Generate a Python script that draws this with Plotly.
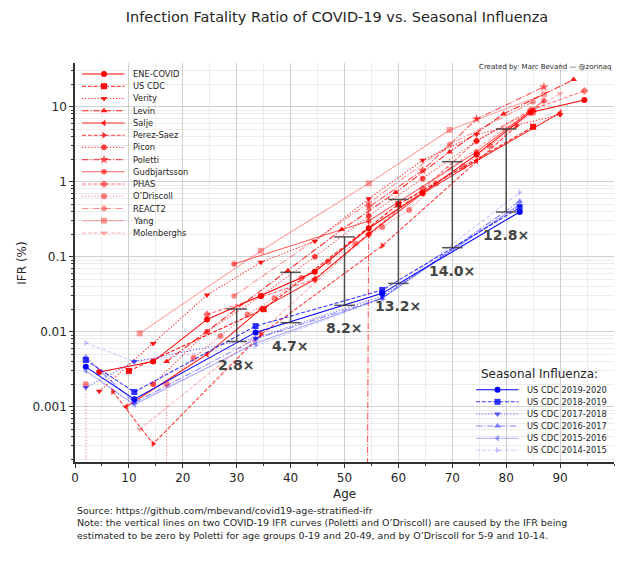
import plotly.graph_objects as go
import math

FONT = "DejaVu Sans"
TXT = "#262626"

# ---------------- data ----------------
covid_names = ["ENE-COVID", "US CDC", "Verity", "Levin", "Salje", "Perez-Saez", "Picon",
               "Poletti", "Gudbjartsson", "PHAS", "O\u2019Driscoll", "REACT2", "Yang", "Molenberghs"]

ene_x = [4.5, 14.5, 24.5, 34.5, 44.5, 54.5, 64.5, 74.5, 84.5, 94.5]
ene_y = [0.0029, 0.0040, 0.0146, 0.030, 0.063, 0.24, 0.71, 2.3, 8.4, 12.3]
cdc_x = [10, 35, 60, 85]
cdc_y = [0.003, 0.02, 0.5, 5.4]
verity_x = [4.5, 14.5, 24.5, 34.5, 44.5, 54.5, 64.5, 74.5, 90]
verity_y = [0.00161, 0.00695, 0.0309, 0.0844, 0.161, 0.595, 1.93, 4.28, 7.8]
levin_x = [17, 39.5, 49.5, 59.5, 69.5, 79.5, 92.5]
levin_y = [0.004, 0.065, 0.23, 0.72, 2.5, 8.0, 23]
salje_x = [9.5, 24.5, 34.5, 44.5, 54.5, 64.5, 74.5, 90]
salje_y = [0.001, 0.005, 0.02, 0.05, 0.2, 0.7, 1.9, 8.3]
perez_x = [7, 14.5, 34.5, 57, 82]
perez_y = [0.0016, 0.00032, 0.0092, 0.14, 5.6]
picon_x = [14.5, 24.5, 34.5, 44.5, 54.5, 64.5, 74.5, 85]
picon_y = [0.002, 0.01, 0.03, 0.1, 0.35, 1.1, 3.5, 9.0]
poletti_x = [9.5, 34.5, 54.5, 64.5, 74.5, 87]
poletti_y = [0, 0, 0.46, 1.42, 6.87, 18.35]
gudb_x = [29.5, 54.5, 74.5, 87]
gudb_y = [0.08, 0.3, 2.5, 12.0]
phas_x = [24.5, 44.5, 54.5, 64.5, 74.5, 84.5, 94.5]
phas_y = [0.017, 0.05, 0.2, 0.8, 3.5, 9.0, 16.3]
odriscoll_x = [2, 7, 12, 17, 22, 27, 32, 37, 42, 47, 52, 57, 62, 67, 72, 77, 85]
odriscoll_y = [0.002, 0, 0, 0.002, 0.0045, 0.0088, 0.017, 0.028, 0.052, 0.086, 0.15, 0.25,
               0.42, 0.95, 1.6, 3.0, 8.3]
react2_x = [29.5, 54.5, 69.5, 85]
react2_y = [0.03, 0.52, 3.13, 11.64]
yang_x = [12, 34.5, 54.5, 69.5, 87]
yang_y = [0.0095, 0.12, 0.95, 4.9, 14.6]
molen_x = [12, 34.5, 54.5, 69.5, 79.5, 90]
molen_y = [0.0005, 0.01, 0.2, 1.5, 5.0, 15.0]

covid_x = [ene_x, cdc_x, verity_x, levin_x, salje_x, perez_x, picon_x, poletti_x, gudb_x,
           phas_x, odriscoll_x, react2_x, yang_x, molen_x]
covid_y = [ene_y, cdc_y, verity_y, levin_y, salje_y, perez_y, picon_y, poletti_y, gudb_y,
           phas_y, odriscoll_y, react2_y, yang_y, molen_y]

flu_names = ["US CDC 2019-2020", "US CDC 2018-2019", "US CDC 2017-2018",
             "US CDC 2016-2017", "US CDC 2015-2016", "US CDC 2014-2015"]
flu_x = [2, 11, 33.5, 57, 82.5]
flu_2019 = [0.0034, 0.00126, 0.0098, 0.0325, 0.395]
flu_2018 = [0.0042, 0.00157, 0.0119, 0.036, 0.45]
flu_2017 = [0.0018, 0.0040, 0.0082, 0.030, 0.48]
flu_2016 = [0.0046, 0.00113, 0.0080, 0.028, 0.55]
flu_2015 = [0.0030, 0.00107, 0.0070, 0.028, 0.50]
flu_2014 = [0.0071, 0.0040, 0.0065, 0.028, 0.72]
flu_y = [flu_2019, flu_2018, flu_2017, flu_2016, flu_2015, flu_2014]

ratio_ages = [30, 40, 50, 60, 70, 80]
ratio_covid = [0.0201, 0.062, 0.184, 0.58, 1.85, 5.05]
ratio_flu = [0.0074, 0.0132, 0.0225, 0.0441, 0.132, 0.395]
ratio_labels = ["2.8\u00d7", "4.7\u00d7", "8.2\u00d7", "13.2\u00d7", "14.0\u00d7", "12.8\u00d7"]

# ---------------- styles ----------------
dashes = ["solid", "4px,1.8px", "1.2px,1.9px", "6.5px,1.8px,1.2px,1.8px"]
covid_markers = ["circle", "square", "triangle-down", "triangle-up", "triangle-left",
                 "triangle-right", "octagon", "star", "hexagon", "diamond", "circle",
                 "octagon", "square", "triangle-down"]
covid_alpha = [1, 0.95, 0.9, 0.88, 0.84, 0.8, 0.74, 0.68, 0.62, 0.56, 0.5, 0.44, 0.38, 0.3]
flu_markers = ["circle", "square", "triangle-down", "triangle-up", "triangle-left", "triangle-right"]
flu_alpha = [1, 0.8, 0.62, 0.48, 0.34, 0.2]

ZERO = 1e-300  # an IFR of zero is drawn as a vertical drop on the log axis
LW = 1.05


def rgba(rgb, a):
    return "rgba(%d,%d,%d,%.3f)" % (rgb[0], rgb[1], rgb[2], a)


fig = go.Figure()

for i, (xs, ys) in enumerate(zip(covid_x, covid_y)):
    col = rgba((255, 0, 0), covid_alpha[i])
    fig.add_trace(go.Scatter(
        x=xs, y=[v if v > 0 else ZERO for v in ys], mode="lines+markers",
        line=dict(color=col, width=LW, dash=dashes[i % 4]),
        marker=dict(symbol=covid_markers[i], size=7 if covid_markers[i] == "star" else 6,
                    color=col, line=dict(width=0)),
        showlegend=False, name=covid_names[i]))

for i, ys in enumerate(flu_y):
    col = rgba((0, 0, 255), flu_alpha[i])
    fig.add_trace(go.Scatter(
        x=flu_x, y=ys, mode="lines+markers",
        line=dict(color=col, width=LW, dash=dashes[i % 4]),
        marker=dict(symbol=flu_markers[i], size=6, color=col, line=dict(width=0)),
        showlegend=False, name=flu_names[i]))

# ratio bars
CAP = 1.9
for a, c, f in zip(ratio_ages, ratio_covid, ratio_flu):
    fig.add_trace(go.Scatter(
        x=[a - CAP, a + CAP, None, a, a, None, a - CAP, a + CAP],
        y=[c, c, None, c, f, None, f, f],
        mode="lines", line=dict(color="rgba(55,55,55,0.85)", width=1.5),
        showlegend=False, hoverinfo="skip"))

annotations = []
for a, f, lab in zip(ratio_ages, ratio_flu, ratio_labels):
    annotations.append(dict(x=a, y=math.log10(f), xref="x", yref="y", text="<b>%s</b>" % lab,
                            showarrow=False, yshift=-23,
                            font=dict(family=FONT, size=14, color="#444444")))

# ---------------- hand-drawn legends (pixel overlay axes) ----------------
L, R, T, B = 75, 614, 63, 462
W, H = 644, 564


def legend_block(names, markers, alphas, rgb, x0, x1, xm, xt, y0, dy, title, tx, ty):
    for i, nm in enumerate(names):
        y = y0 + i * dy
        col = rgba(rgb, alphas[i])
        fig.add_trace(go.Scatter(x=[x0, x1], y=[y, y], xaxis="x2", yaxis="y2", mode="lines",
                                 line=dict(color=col, width=LW, dash=dashes[i % 4]),
                                 showlegend=False, hoverinfo="skip"))
        fig.add_trace(go.Scatter(x=[xm], y=[y], xaxis="x2", yaxis="y2", mode="markers",
                                 marker=dict(symbol=markers[i], size=7 if markers[i] == "star" else 6,
                                             color=col, line=dict(width=0)),
                                 showlegend=False, hoverinfo="skip"))
        annotations.append(dict(x=xt, y=y, xref="x2", yref="y2", text=nm, showarrow=False,
                                xanchor="left", yanchor="middle",
                                font=dict(family=FONT, size=8.3, color=TXT)))
    annotations.append(dict(x=tx, y=ty, xref="x2", yref="y2", text=title, showarrow=False,
                            xanchor="left", yanchor="middle",
                            font=dict(family=FONT, size=12, color=TXT)))


legend_block(covid_names, covid_markers, covid_alpha, (255, 0, 0),
             82, 124.5, 104, 131, 74, 12.23, "COVID-19:", 91, 62.5)
legend_block(flu_names, flu_markers, flu_alpha, (0, 0, 255),
             476, 518.5, 497.5, 525, 389.7, 12.12, "Seasonal Influenza:", 479, 374)

# texts
annotations.append(dict(x=1, y=1 - (66.6 - T) / (B - T), xref="paper", yref="paper",
                        text="Created by: Marc Bevand \u2014 @zorinaq", showarrow=False,
                        xanchor="right", yanchor="middle",
                        font=dict(family=FONT, size=7, color=TXT)))
annotations.append(dict(x=0.5, y=-(494 - B) / (B - T), xref="paper", yref="paper", text="Age",
                        showarrow=False, xanchor="center", yanchor="middle",
                        font=dict(family=FONT, size=12, color=TXT)))
annotations.append(dict(x=-(L - 21.7) / (R - L), y=1 - (263 - T) / (B - T), xref="paper",
                        yref="paper", text="IFR (%)", showarrow=False, textangle=-90,
                        xanchor="center", yanchor="middle",
                        font=dict(family=FONT, size=12, color=TXT)))
annotations.append(dict(x=0, y=-(503 - B) / (B - T), xref="paper", yref="paper",
                        text="Source: https://github.com/mbevand/covid19-age-stratified-ifr<br>"
                             "Note: the vertical lines on two COVID-19 IFR curves (Poletti and O\u2019Driscoll) are caused by the IFR being<br>"
                             "estimated to be zero by Poletti for age groups 0-19 and 20-49, and by O\u2019Driscoll for 5-9 and 10-14.",
                        showarrow=False, xanchor="left", yanchor="top", align="left",
                        font=dict(family=FONT, size=9.5, color=TXT)))

axis_common = dict(showline=True, linecolor="#333333", linewidth=1.5, ticks="outside",
                   tickcolor="#333333", ticklen=4, tickwidth=1.2, zeroline=False,
                   showgrid=True, gridcolor="#d0d0d0", gridwidth=1,
                   tickfont=dict(family=FONT, size=12, color=TXT), mirror=False)

fig.update_layout(
    width=W, height=H, margin=dict(l=L, r=W - R, t=T, b=H - B),
    paper_bgcolor="white", plot_bgcolor="white", showlegend=False,
    title=dict(text="Infection Fatality Ratio of COVID-19 vs. Seasonal Influenza",
               x=(337 - L) / (R - L), xref="paper", y=1 - 17 / H, yref="container",
               yanchor="middle", xanchor="center",
               font=dict(family=FONT, size=14.5, color=TXT)),
    xaxis=dict(range=[0, 100], tickvals=list(range(0, 100, 10)),
               minor=dict(dtick=5, tick0=0, ticks="outside", ticklen=2.5, tickcolor="#333333",
                          showgrid=True, gridcolor="#ececec"),
               **axis_common),
    yaxis=dict(type="log", range=[-3.737, 1.583], tickvals=[0.001, 0.01, 0.1, 1, 10],
               ticktext=["0.001", "0.01", "0.1", "1", "10"],
               minor=dict(dtick="D1", ticks="outside", ticklen=2.5, tickcolor="#333333",
                          showgrid=True, gridcolor="#ececec"),
               **axis_common),
    xaxis2=dict(range=[L, R], overlaying="x", anchor="y2", visible=False, fixedrange=True),
    yaxis2=dict(range=[B, T], overlaying="y", anchor="x2", visible=False, fixedrange=True),
    annotations=annotations,
)

fig.write_html("out.html")
